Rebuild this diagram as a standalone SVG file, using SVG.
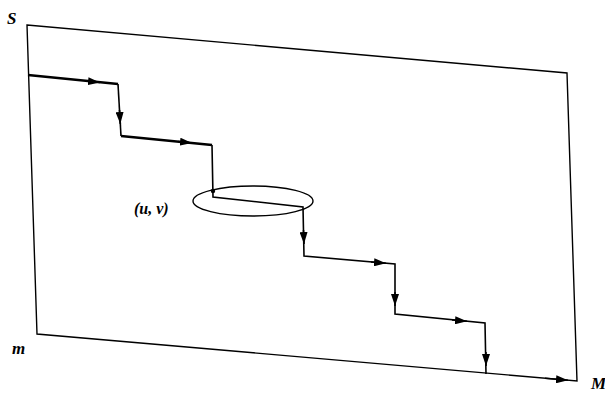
<svg xmlns="http://www.w3.org/2000/svg" width="605" height="393" viewBox="0 0 605 393">
  <style>
    .frame { fill: none; stroke: #000; stroke-width: 1.4; stroke-linejoin: miter; }
    .step { fill: none; stroke: #000; stroke-width: 1.6; stroke-linejoin: miter; }
    .heavy { stroke-width: 2.6; }
    .tip { fill: none; stroke: #000; stroke-width: 1.6; marker-end: url(#head); }
    .lbl { font-family: "Liberation Serif", "DejaVu Serif", serif; font-style: italic; font-weight: bold; fill: #000; }
  </style>
  <defs>
    <marker id="head" markerUnits="userSpaceOnUse" markerWidth="12" markerHeight="8" viewBox="0 0 12 8" refX="12" refY="4" orient="auto">
      <path d="M0,0 L12,4 L0,8 Z" fill="#000"/>
    </marker>
  </defs>

  <!-- outer sheet -->
  <g id="sheet">
    <path class="frame" d="M27,25 L567,73 L577,381 L37,334 Z"/>
  </g>

  <!-- neighbourhood of (u, v) -->
  <g id="region-uv">
    <ellipse cx="253" cy="201" rx="60" ry="15" fill="none" stroke="#000" stroke-width="1.4"/>
    <circle cx="213" cy="191" r="2.2" fill="#000"/>
  </g>

  <!-- staircase path -->
  <g id="connectors">
    <path class="step heavy" d="M28,75 L118,84"/>
    <path class="step" d="M118,84 L121,136"/>
    <path class="step heavy" d="M121,136 L212,145"/>
    <path class="step" d="M212,145 L213,197 L303,207 L304,256 L395,264 L395,314 L485,323 L486,374"/>
    <!-- direction heads along the steps -->
    <path class="tip" d="M86,81 L100,82.5"/>
    <path class="tip" d="M119.5,110 L120.3,124"/>
    <path class="tip" d="M178,141.5 L192,143"/>
    <path class="tip" d="M303.5,230 L304,244"/>
    <path class="tip" d="M371,262 L386,263.3"/>
    <path class="tip" d="M395,292 L395,306"/>
    <path class="tip" d="M452,320 L467,321.3"/>
    <path class="tip" d="M486,352 L486,366"/>
    <path class="tip" d="M545,378.3 L568,380.3"/>
  </g>

  <!-- labels -->
  <g id="labels">
    <text class="lbl" x="7" y="24" font-size="17">S</text>
    <text class="lbl" x="12" y="354" font-size="17">m</text>
    <text class="lbl" x="591" y="389" font-size="17">M</text>
    <text class="lbl" x="134" y="214" font-size="16">(u, v)</text>
  </g>
</svg>
